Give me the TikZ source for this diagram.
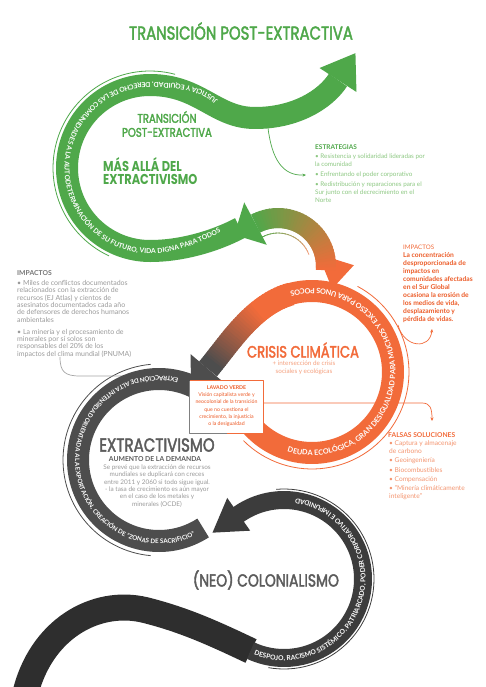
\documentclass[tikz,border=0pt]{standalone}
\usepackage{fontspec}
\setmainfont{Lato}
\newfontfamily\headfont{Poppins}[FakeStretch=0.8, FakeBold=2.2]
\newfontfamily\headbold{Poppins}[FakeStretch=0.8]
\usetikzlibrary{decorations.text,arrows.meta,calc}
\definecolor{gr}{HTML}{4FA84A}
\definecolor{grlt}{HTML}{8DC882}
\definecolor{org}{HTML}{F26B3A}
\definecolor{orglt}{HTML}{F5A07E}
\definecolor{orgdk}{HTML}{EC5B27}
\definecolor{md}{HTML}{4D4D4D}
\definecolor{col}{HTML}{3C3C3C}
\definecolor{dk}{HTML}{2E2E2E}
\definecolor{hdgray}{HTML}{5C5C5C}
\definecolor{txtgray}{HTML}{9A9A9A}
\definecolor{impt}{HTML}{767676}
\newcommand\ringfontA{\bfseries\fontsize{6.8}{7}\selectfont}
\newcommand\ringfontB{\bfseries\fontsize{6.2}{7}\selectfont}
\newcommand\ringfontC{\bfseries\fontsize{7.3}{7}\selectfont}
\newcommand\ringfontD{\bfseries\fontsize{6.7}{7}\selectfont}
% head triangle: x, y, angle, length, half width, colour
\newcommand\headtri[6]{%
  \fill[#6] ({(#1)+(#4)*cos(#3)},{(#2)+(#4)*sin(#3)}) --
  ({(#1)+(#5)*cos((#3)+90)},{(#2)+(#5)*sin((#3)+90)}) --
  ({(#1)-(#5)*cos((#3)+90)},{(#2)-(#5)*sin((#3)+90)}) -- cycle;}
% gradient arc: cx, cy, r, a1, a2, width, colA, colB, N
\newcommand\gradarc[9]{%
  \foreach \k in {1,...,#9}{%
    \pgfmathsetmacro\gA{(#4)+((#5)-(#4))*(\k-1)/(#9)}%
    \pgfmathsetmacro\gB{(#4)+((#5)-(#4))*min(#9,\k+0.6)/(#9)}%
    \pgfmathtruncatemacro\gP{100*(\k-0.5)/(#9)}%
    \draw[line width=#6, color=#8!\gP!#7] ({(#1)+(#3)*cos(\gA)},{(#2)+(#3)*sin(\gA)}) -- ({(#1)+(#3)*cos(\gB)},{(#2)+(#3)*sin(\gB)});%
  }}
\tikzset{
  declare function={bz(\u,\a,\b,\c,\d)=(1-\u)^3*\a+3*(1-\u)^2*\u*\b+3*(1-\u)*\u^2*\c+\u^3*\d;},
  ringtext/.style={decorate, decoration={text along path, text align=center, text color=white, text={#1}}},
  thinline/.style={line width=0.8},
  conn/.style={line width=0.7},
  body/.style={inner sep=0, align=left, anchor=north west},
}
\begin{document}
\begin{tikzpicture}[x=1pt,y=-1pt,line join=round]
\useasboundingbox (0,0) rectangle (485,687);
\fill[white] (0,0) rectangle (485,687);

% thin outlines
\draw[gr, thinline] plot[domain=115:285, samples=60] ({150+97*cos(\x)},{168+97*sin(\x)});
\draw[org, thinline] plot[domain=135:-62, samples=60] ({312+97*cos(\x)},{372+97*sin(\x)});
\draw[md, thinline] plot[domain=95:265, samples=60] ({159+96*cos(\x)},{460+96*sin(\x)});
\draw[col, thinline] plot[domain=100:-95, samples=60] ({284+90*cos(\x)},{579+90*sin(\x)});
\gradarc{278}{266}{33}{-20}{-122}{0.8}{orglt}{gr}{20}

% connector lines
\coordinate (limpc) at (60,357);
\coordinate (extrtop) at (150,376);
\draw[gray!70, conn] (limpc) .. controls (60,372) and (65,376) .. (80,376) -- (extrtop);

% colonialism
\draw[dk, line width=26] (25,695) .. controls (40,630) and (95,598) .. (145,610) .. controls (185,620) and (215,634) .. (251,651);
\draw[col, line width=18] plot[domain=115:-126, samples=90] ({284+79*cos(\x)},{579+79*sin(\x)});

% extractivismo ring
\draw[md, line width=22] plot[domain=57:299, samples=90] ({159+81*cos(\x)},{460+81*sin(\x)});
\headtri{238.7}{514.3}{145}{32}{20}{col}

% orange ring
\draw[org, line width=22] plot[domain=140:-106, samples=90] ({312+81*cos(\x)},{372+81*sin(\x)});
\foreach \k in {1,...,40}{
  \pgfmathsetmacro\gA{(\k-1)/40}
  \pgfmathsetmacro\gB{min(1,(\k+0.6)/40)}
  \pgfmathtruncatemacro\gP{max(0,min(100,(\gA-0.3)/0.6*100))}
  \draw[line width=23, color=md!\gP!org] ({bz(\gA,291,252.4,227.5,208)},{bz(\gA,294,304.4,346.2,369)}) -- ({bz(\gB,291,252.4,227.5,208)},{bz(\gB,294,304.4,346.2,369)});
}
\headtri{208}{369}{130.5}{26}{23}{md}

% lavado verde box
\node[fill=white, inner sep=0, minimum width=73, minimum height=52] (lvbox) at (226.5,407) {};
\draw[org, thinline] (lvbox.north west) -- (lvbox.north east) -- (lvbox.south east) -- (lvbox.south);
\draw[gray, thinline] (lvbox.north west) -- (lvbox.south west) -- (lvbox.south);
\node[inner sep=0, align=center, font=\fontsize{5.2}{7.2}\selectfont, text=orgdk] (lvtext) at (226.5,406) {\textbf{LAVADO VERDE}\\Visión capitalista verde y\\neocolonial de la transición\\que no cuestiona el\\crecimiento, la injusticia\\o la desigualdad};

% gradient arrow orange -> green
\headtri{343}{277}{222.6}{34}{16}{org}
\gradarc{278}{266}{48}{5}{-118}{20}{org}{gr}{36}
\headtri{255.5}{223.6}{152}{24}{24}{gr}

% green band
\draw[gr, line width=22] (240,228) .. controls (213.5,242) and (180,251) .. (150.5,251) -- plot[domain=90:270, samples=70] ({150+83*cos(\x)},{168+83*sin(\x)}) .. controls (200,85) and (215,118) .. (255,118) .. controls (295,118) and (325,100) .. (338,80);
\headtri{338}{80}{-57}{32}{22}{gr}

% ring texts
\path[ringtext={|\ringfontA|JUSTICIA Y EQUIDAD, DERECHO DE LAS COMUNIDADES A LA AUTODETERMINACIÓN DE SU FUTURO, VIDA DIGNA PARA TODOS}] (227,109) .. controls (212,92) and (195,82.5) .. (151,82.5) -- plot[domain=270:90, samples=70] ({150+85.5*cos(\x)},{168+85.5*sin(\x)}) .. controls (180,253.5) and (205,240.5) .. (232,226);
\path[ringtext={|\ringfontB|EXTRACCIÓN DE ALTA INTENSIDAD ORIENTADA A LA EXPORTACIÓN, CREACIÓN DE "ZONAS DE SACRIFICIO"}] plot[domain=-70:-302, samples=90] ({159+84*cos(\x)},{460+84*sin(\x)});
\path[ringtext={|\ringfontC|DEUDA ECOLÓGICA, GRAN DESIGUALDAD PARA MUCHOS Y EXCESO PARA UNOS POCOS}] plot[domain=112:-110, samples=90] ({312+83.5*cos(\x)},{372+83.5*sin(\x)});
\path[ringtext={|\ringfontD|DESPOJO, RACISMO SISTÉMICO, PATRIARCADO, PODER CORPORATIVO E IMPUNIDAD}] plot[domain=122:-92, samples=90] ({284+81.5*cos(\x)},{579+81.5*sin(\x)});

% headings
\node[font=\headfont\fontsize{18.6}{19}\selectfont, text=gr, inner sep=0] (title) at (241,31) {TRANSICIÓN POST-EXTRACTIVA};
\node[font=\headfont\fontsize{12.6}{14}\selectfont, text=gr, align=center, inner sep=0] (trans) at (167,124) {TRANSICIÓN\\POST-EXTRACTIVA};
\node[font=\headbold\bfseries\fontsize{14.3}{13}\selectfont, text=gr, align=left, inner sep=0, anchor=west] (mas) at (103,171) {MÁS ALLÁ DEL\\EXTRACTIVISMO};
\node[font=\headfont\fontsize{16.4}{16}\selectfont, text=org, inner sep=0] (crisis) at (303,350) {CRISIS CLIMÁTICA};
\node[font=\fontsize{6.3}{8}\selectfont, text=orglt, align=center, inner sep=0] (crisissub) at (304,368) {+ intersección de crisis\\sociales y ecológicas};
\node[font=\headfont\fontsize{18.8}{18}\selectfont, text=hdgray, inner sep=0] (extr) at (157,445) {EXTRACTIVISMO};
\node[font=\bfseries\fontsize{6.8}{7}\selectfont, text=hdgray, inner sep=0] (aum) at (155,459.5) {AUMENTO DE LA DEMANDA};
\node[font=\fontsize{6.4}{7.4}\selectfont, text=txtgray, align=center, inner sep=0] (aumb) at (157,486) {Se prevé que la extracción de recursos\\mundiales se duplicará con creces\\entre 2011 y 2060 si todo sigue igual.\\- la tasa de crecimiento es aún mayor\\en el caso de los metales y\\minerales (OCDE)};
\node[font=\headfont\fontsize{17.4}{17}\selectfont, text=hdgray, inner sep=0] (neo) at (266,580) {(NEO) COLONIALISMO};

% side texts
\node[body, font=\bfseries\fontsize{6.5}{7}\selectfont, text=gr] (estr) at (315,145) {ESTRATEGIAS};
\node[body, font=\fontsize{6.3}{8}\selectfont, text=grlt] (estrb) at (315,154) {• Resistencia y solidaridad lideradas por\\la comunidad\\[2pt]• Enfrentando el poder corporativo\\[2pt]• Redistribución y reparaciones para el\\Sur junto con el decrecimiento en el\\Norte};
\node[body, font=\bfseries\fontsize{6.8}{7}\selectfont, text=impt] (limp) at (17,270) {IMPACTOS};
\node[body, font=\fontsize{7}{7.4}\selectfont, text=txtgray] (limpb) at (17,280) {• Miles de conflictos documentados\\relacionados con la extracción de\\recursos (EJ Atlas) y cientos de\\asesinatos documentados cada año\\de defensores de derechos humanos\\ambientales\\[4.4pt]• La minería y el procesamiento de\\minerales por sí solos son\\responsables del 20\% de los\\impactos del clima mundial (PNUMA)};
\node[body, font=\fontsize{6.2}{7}\selectfont, text=org] (rimp) at (403,245.3) {IMPACTOS};
\node[body, font=\bfseries\fontsize{6.7}{8}\selectfont, text=orgdk] (rimpb) at (403,252) {La concentración\\desproporcionada de\\impactos en\\comunidades afectadas\\en el Sur Global\\ocasiona la erosión de\\los medios de vida,\\desplazamiento y\\pérdida de vidas.};
\node[body, font=\bfseries\fontsize{6.7}{7}\selectfont, text=org] (fals) at (388,432) {FALSAS SOLUCIONES};
\node[body, font=\fontsize{6.6}{8}\selectfont, text=orglt!80!org] (falsb) at (389,440) {• Captura y almacenaje\\de carbono\\[1.5pt]• Geoingeniería\\[1.5pt]• Biocombustibles\\[1pt]• Compensación\\[1pt]• "Minería climáticamente\\inteligente"};

% connectors with arrows
\coordinate (sband) at (268,128);
\coordinate (estrpt) at (306,175);
\draw[gr, conn, -{Stealth[length=3.5pt,width=3pt]}] (sband) .. controls (272,160) and (283,176) .. (estrpt);
\coordinate (oline) at (398,325);
\coordinate (rimppt) at (432,329);
\draw[org, conn, -{Stealth[length=3.5pt,width=3pt]}] (oline) .. controls (404,348) and (430,350) .. (rimppt);
\coordinate (falspt) at (432,421);
\draw[org, conn, -{Stealth[length=3.5pt,width=3pt]}] (lvbox.east |- 0,403) -- (422,403) .. controls (430,403) and (432,408) .. (falspt);
\end{tikzpicture}
\end{document}
